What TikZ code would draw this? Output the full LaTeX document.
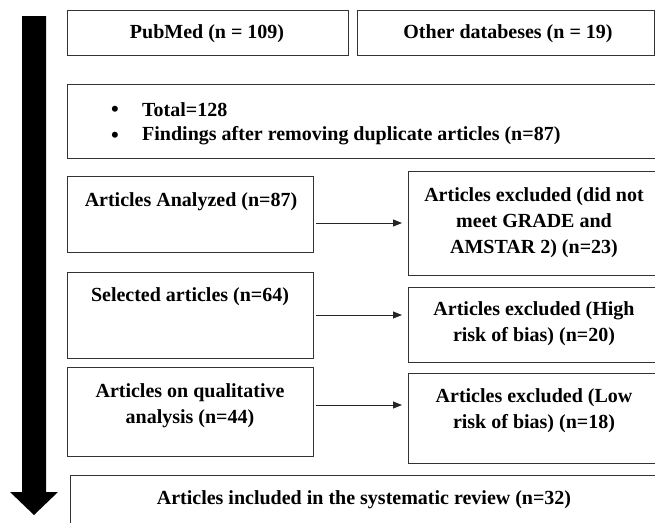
\documentclass[tikz,border=0pt]{standalone}
\usepackage{fontspec}
\setmainfont{Liberation Serif}
\usetikzlibrary{arrows.meta}
\begin{document}
\begin{tikzpicture}[x=1pt,y=-1pt,
  box/.style={draw=black!80, line width=0.9pt, anchor=north west, inner sep=0pt, outer sep=0pt},
  txt/.style={font=\fontsize{20}{26}\selectfont\bfseries, align=center, inner sep=0pt},
  bul/.style={font=\fontsize{22}{26}\selectfont\bfseries, inner sep=0pt},
  conn/.style={draw=black!85, line width=0.8pt, -{Triangle[length=9pt,width=7pt]}, shorten <=3pt, shorten >=6pt}]
\useasboundingbox (0,0) rectangle (655,522);
% big arrow
\fill[black] (22,16) -- (46,16) -- (46,492) -- (58,492) -- (34,515) -- (10,492) -- (22,492) -- cycle;
% boxes
\node[box, minimum width=281, minimum height=45] (pub) at (67,10) {};
\node[box, minimum width=297, minimum height=45] (oth) at (357,10) {};
\node[box, minimum width=588, minimum height=74] (tot) at (67,84) {};
\node[box, minimum width=246, minimum height=76] (ana) at (67,176) {};
\node[box, minimum width=247, minimum height=104] (ex1) at (408,171) {};
\node[box, minimum width=246, minimum height=86] (sel) at (67,272) {};
\node[box, minimum width=247, minimum height=75] (ex2) at (408,287) {};
\node[box, minimum width=246, minimum height=89] (qua) at (67,367) {};
\node[box, minimum width=247, minimum height=90] (ex3) at (408,373) {};
\node[box, minimum width=585, minimum height=60] (fin) at (70,475) {};
% texts
\node[txt] (tpub) at (207,34) {PubMed (n = 109)};
\node[txt] (toth) at (508,34) {Other databeses (n = 19)};
\node[txt, anchor=west] (tb1) at (142,110) {Total=128};
\node[txt, anchor=west] (tb2) at (142,136) {Findings after removing duplicate articles (n=87)};
\node[bul] (bul1) at (115,111) {\textbullet};
\node[bul] (bul2) at (115,137) {\textbullet};
\node[txt] (tana) at (191,202) {Articles Analyzed (n=87)};
\node[txt] (tex1) at (534,223) {Articles excluded (did not\\meet GRADE and\\AMSTAR 2) (n=23)};
\node[txt] (tsel) at (190,297) {Selected articles (n=64)};
\node[txt] (tex2) at (534,323.5) {Articles excluded (High\\risk of bias) (n=20)};
\node[txt] (tqua) at (190,406) {Articles on qualitative\\analysis (n=44)};
\node[txt] (tex3) at (534,410.5) {Articles excluded (Low\\risk of bias) (n=18)};
\node[txt] (tfin) at (364,500) {Articles included in the systematic review (n=32)};
% connectors
\draw[conn] (ana.east |- ex1.west) -- (ex1.west);
\draw[conn] (sel.east |- 0,315) -- (ex2.west |- 0,315);
\draw[conn] (qua.east |- 0,405) -- (ex3.west |- 0,405);
\end{tikzpicture}
\end{document}
